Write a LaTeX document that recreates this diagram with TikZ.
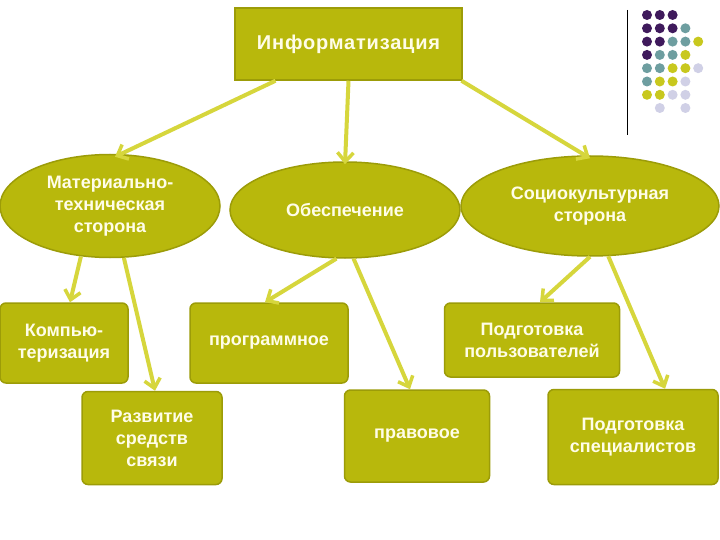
\documentclass[tikz,border=0pt]{standalone}
\usepackage{fontspec}
\setmainfont{Liberation Sans}
\usetikzlibrary{shapes.geometric,arrows.meta}
\definecolor{olv}{HTML}{B8B80C}
\definecolor{olvd}{HTML}{9C9C08}
\definecolor{arr}{HTML}{D6D63C}
\definecolor{txt}{HTML}{FFFDE8}
\definecolor{dP}{HTML}{3F1A5C}
\definecolor{dT}{HTML}{6E9EA0}
\definecolor{dY}{HTML}{C8C81E}
\definecolor{dL}{HTML}{D0D0E6}
\tikzset{
 box/.style={draw=olvd,line width=1.5pt,fill=olv,rounded corners=6pt,text=txt,align=center,font=\fontsize{18}{22}\selectfont\bfseries,inner sep=0pt},
 ell/.style={box,ellipse},
 conn/.style={draw=arr,line width=4pt,-{Straight Barb[length=9pt,width=16pt,line width=3.5pt]}},
 dot/.style={circle,inner sep=0pt,minimum size=10pt}
}
\begin{document}
\begin{tikzpicture}[x=1pt,y=-1pt]
\useasboundingbox[fill=white] (0,0) rectangle (720,540);
\node[box,sharp corners,minimum width=227pt,minimum height=72pt,font=\fontsize{20}{24}\selectfont\bfseries\addfontfeature{LetterSpace=4}] (top) at (348.5,44) {Информатизация};
\node[ell,minimum width=220pt,minimum height=103pt] (e1) at (110,206) {Материально-\\техническая\\сторона};
\node[ell,minimum width=230pt,minimum height=96pt] (e2) at (345,210) {Обеспечение};
\node[ell,minimum width=258pt,minimum height=100pt] (e3) at (590,206) {Социокультурная\\сторона};
\node[box,minimum width=128pt,minimum height=80pt] (k) at (64,343) {Компью-\\теризация};
\node[box,minimum width=140pt,minimum height=93pt] (r) at (152,438) {Развитие\\средств\\связи};
\node[box,minimum width=158pt,minimum height=80pt] (p) at (269,343) {программное};
\node[box,minimum width=175pt,minimum height=74pt] (u) at (532,340) {Подготовка\\пользователей};
\node[box,minimum width=145pt,minimum height=92pt] (l) at (417,436) {правовое};
\node[box,minimum width=170pt,minimum height=95pt] (s) at (633,437) {Подготовка\\специалистов};
\draw[conn] ([xshift=-73pt]top.south) -- ([xshift=5pt,yshift=-3pt]e1.north);
\draw[conn] (top.south) -- ([yshift=-3pt]e2.north);
\draw[conn] ([xshift=113pt]top.south) -- ([yshift=-3pt]e3.north);
\draw[conn] (e1.-120) -- ([xshift=6pt]k.north);
\draw[conn] (e1.-75) -- ([xshift=3pt]r.north);
\draw[conn] (e2.-100) -- ([xshift=-4pt]p.north);
\draw[conn] (e2.-80) -- ([xshift=-7pt]l.north);
\draw[conn] (e3.-90) -- ([xshift=8pt]u.north);
\draw[conn] (e3.-70) -- ([xshift=32pt]s.north);
\draw[black,line width=1pt] (627,10) coordinate (v1) -- (627,135) coordinate (v2);
\foreach \r/\row in {0/{dP,dP,dP},1/{dP,dP,dP,dT},2/{dP,dP,dT,dT,dY},3/{dP,dT,dT,dY},4/{dT,dT,dY,dY,dL},5/{dT,dY,dY,dL},6/{dY,dY,dL,dL}}{
 \foreach \c [count=\i from 0] in \row {\node[dot,fill=\c] (d\r-\i) at (647+12.8*\i,15+13.3*\r) {};}}
\node[dot,fill=dL] (d7-1) at (659.8,108) {};
\node[dot,fill=dL] (d7-3) at (685.4,108) {};
\end{tikzpicture}
\end{document}
